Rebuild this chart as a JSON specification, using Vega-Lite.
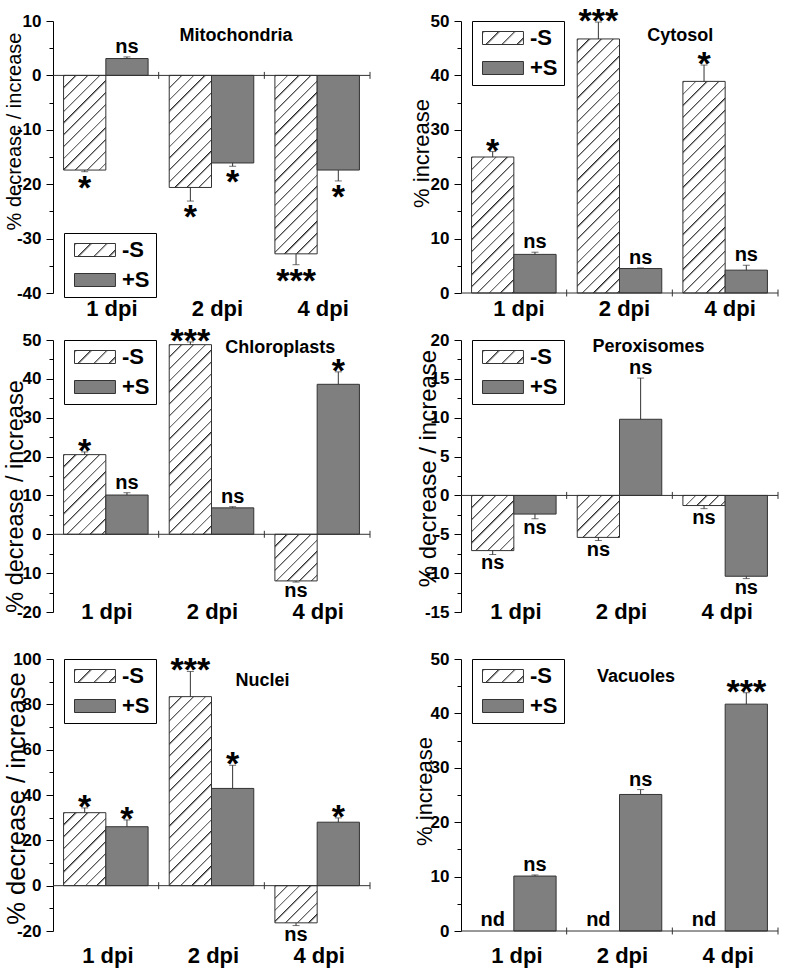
{
  "$schema": "https://vega.github.io/schema/vega-lite/v6.json",
  "background": "white",
  "padding": {"left": 3, "top": 5, "right": 5, "bottom": 5},
  "params": [
    {"name": "hatch", "value": [
      {"offset":0,"color":"#222"},{"offset":0.00834,"color":"#fff"},{"offset":0.03846,"color":"#fff"},
      {"offset":0.03846,"color":"#222"},{"offset":0.0468,"color":"#fff"},{"offset":0.07692,"color":"#fff"},
      {"offset":0.07692,"color":"#222"},{"offset":0.08526,"color":"#fff"},{"offset":0.11538,"color":"#fff"},
      {"offset":0.11538,"color":"#222"},{"offset":0.12372,"color":"#fff"},{"offset":0.15385,"color":"#fff"},
      {"offset":0.15385,"color":"#222"},{"offset":0.16219,"color":"#fff"},{"offset":0.19231,"color":"#fff"},
      {"offset":0.19231,"color":"#222"},{"offset":0.20065,"color":"#fff"},{"offset":0.23077,"color":"#fff"},
      {"offset":0.23077,"color":"#222"},{"offset":0.23911,"color":"#fff"},{"offset":0.26923,"color":"#fff"},
      {"offset":0.26923,"color":"#222"},{"offset":0.27757,"color":"#fff"},{"offset":0.30769,"color":"#fff"},
      {"offset":0.30769,"color":"#222"},{"offset":0.31603,"color":"#fff"},{"offset":0.34615,"color":"#fff"},
      {"offset":0.34615,"color":"#222"},{"offset":0.35449,"color":"#fff"},{"offset":0.38462,"color":"#fff"},
      {"offset":0.38462,"color":"#222"},{"offset":0.39296,"color":"#fff"},{"offset":0.42308,"color":"#fff"},
      {"offset":0.42308,"color":"#222"},{"offset":0.43142,"color":"#fff"},{"offset":0.46154,"color":"#fff"},
      {"offset":0.46154,"color":"#222"},{"offset":0.46988,"color":"#fff"},{"offset":0.5,"color":"#fff"},
      {"offset":0.5,"color":"#222"},{"offset":0.50834,"color":"#fff"},{"offset":0.53846,"color":"#fff"},
      {"offset":0.53846,"color":"#222"},{"offset":0.5468,"color":"#fff"},{"offset":0.57692,"color":"#fff"},
      {"offset":0.57692,"color":"#222"},{"offset":0.58526,"color":"#fff"},{"offset":0.61538,"color":"#fff"},
      {"offset":0.61538,"color":"#222"},{"offset":0.62372,"color":"#fff"},{"offset":0.65385,"color":"#fff"},
      {"offset":0.65385,"color":"#222"},{"offset":0.66219,"color":"#fff"},{"offset":0.69231,"color":"#fff"},
      {"offset":0.69231,"color":"#222"},{"offset":0.70065,"color":"#fff"},{"offset":0.73077,"color":"#fff"},
      {"offset":0.73077,"color":"#222"},{"offset":0.73911,"color":"#fff"},{"offset":0.76923,"color":"#fff"},
      {"offset":0.76923,"color":"#222"},{"offset":0.77757,"color":"#fff"},{"offset":0.80769,"color":"#fff"},
      {"offset":0.80769,"color":"#222"},{"offset":0.81603,"color":"#fff"},{"offset":0.84615,"color":"#fff"},
      {"offset":0.84615,"color":"#222"},{"offset":0.85449,"color":"#fff"},{"offset":0.88462,"color":"#fff"},
      {"offset":0.88462,"color":"#222"},{"offset":0.89296,"color":"#fff"},{"offset":0.92308,"color":"#fff"},
      {"offset":0.92308,"color":"#222"},{"offset":0.93142,"color":"#fff"},{"offset":0.96154,"color":"#fff"},
      {"offset":0.96154,"color":"#222"},{"offset":0.96988,"color":"#fff"},{"offset":1,"color":"#fff"}
    ]}
  ],
  "datasets": {
    "d": [
      {"panel":"Mito","dpi":"1 dpi","trt":"-S","v":-17.4,"e":-17.7,"sig":"*"},
      {"panel":"Mito","dpi":"1 dpi","trt":"+S","v":3.1,"e":3.4,"sig":"ns"},
      {"panel":"Mito","dpi":"2 dpi","trt":"-S","v":-20.6,"e":-23.1,"sig":"*"},
      {"panel":"Mito","dpi":"2 dpi","trt":"+S","v":-16.1,"e":-16.7,"sig":"*"},
      {"panel":"Mito","dpi":"4 dpi","trt":"-S","v":-32.8,"e":-34.8,"sig":"***"},
      {"panel":"Mito","dpi":"4 dpi","trt":"+S","v":-17.4,"e":-19.4,"sig":"*"},
      {"panel":"Cyto","dpi":"1 dpi","trt":"-S","v":25.0,"e":26.0,"sig":"*"},
      {"panel":"Cyto","dpi":"1 dpi","trt":"+S","v":7.1,"e":7.5,"sig":"ns"},
      {"panel":"Cyto","dpi":"2 dpi","trt":"-S","v":46.7,"e":49.8,"sig":"***"},
      {"panel":"Cyto","dpi":"2 dpi","trt":"+S","v":4.5,"e":4.6,"sig":"ns"},
      {"panel":"Cyto","dpi":"4 dpi","trt":"-S","v":38.9,"e":41.9,"sig":"*"},
      {"panel":"Cyto","dpi":"4 dpi","trt":"+S","v":4.2,"e":5.1,"sig":"ns"},
      {"panel":"Chloro","dpi":"1 dpi","trt":"-S","v":20.5,"e":21.2,"sig":"*"},
      {"panel":"Chloro","dpi":"1 dpi","trt":"+S","v":10.1,"e":10.7,"sig":"ns"},
      {"panel":"Chloro","dpi":"2 dpi","trt":"-S","v":48.8,"e":49.5,"sig":"***"},
      {"panel":"Chloro","dpi":"2 dpi","trt":"+S","v":6.8,"e":7.1,"sig":"ns"},
      {"panel":"Chloro","dpi":"4 dpi","trt":"-S","v":-12.0,"e":-12.3,"sig":"ns"},
      {"panel":"Chloro","dpi":"4 dpi","trt":"+S","v":38.6,"e":41.8,"sig":"*"},
      {"panel":"Perox","dpi":"1 dpi","trt":"-S","v":-7.1,"e":-7.6,"sig":"ns"},
      {"panel":"Perox","dpi":"1 dpi","trt":"+S","v":-2.4,"e":-3.0,"sig":"ns"},
      {"panel":"Perox","dpi":"2 dpi","trt":"-S","v":-5.4,"e":-5.8,"sig":"ns"},
      {"panel":"Perox","dpi":"2 dpi","trt":"+S","v":9.8,"e":15.1,"sig":"ns"},
      {"panel":"Perox","dpi":"4 dpi","trt":"-S","v":-1.3,"e":-1.7,"sig":"ns"},
      {"panel":"Perox","dpi":"4 dpi","trt":"+S","v":-10.4,"e":-10.7,"sig":"ns"},
      {"panel":"Nuclei","dpi":"1 dpi","trt":"-S","v":32.2,"e":34.3,"sig":"*"},
      {"panel":"Nuclei","dpi":"1 dpi","trt":"+S","v":26.0,"e":29.0,"sig":"*"},
      {"panel":"Nuclei","dpi":"2 dpi","trt":"-S","v":83.4,"e":94.5,"sig":"***"},
      {"panel":"Nuclei","dpi":"2 dpi","trt":"+S","v":42.9,"e":53.1,"sig":"*"},
      {"panel":"Nuclei","dpi":"4 dpi","trt":"-S","v":-16.4,"e":-17.6,"sig":"ns"},
      {"panel":"Nuclei","dpi":"4 dpi","trt":"+S","v":28.0,"e":29.9,"sig":"*"},
      {"panel":"Vac","dpi":"1 dpi","trt":"-S","v":null,"e":null,"sig":"nd"},
      {"panel":"Vac","dpi":"1 dpi","trt":"+S","v":10.1,"e":10.3,"sig":"ns"},
      {"panel":"Vac","dpi":"2 dpi","trt":"-S","v":null,"e":null,"sig":"nd"},
      {"panel":"Vac","dpi":"2 dpi","trt":"+S","v":25.1,"e":26.0,"sig":"ns"},
      {"panel":"Vac","dpi":"4 dpi","trt":"-S","v":null,"e":null,"sig":"nd"},
      {"panel":"Vac","dpi":"4 dpi","trt":"+S","v":41.7,"e":43.8,"sig":"***"}
    ]
  },
  "data": {"name": "d"},
  "config": {
    "view": {"stroke": null},
    "font": "Liberation Sans",
    "axis": {"labelFont": "Liberation Sans", "labelFontWeight": "bold", "labelFontSize": 17, "labelColor": "#000", "titleFont": "Liberation Sans", "titleFontWeight": "normal", "titleColor": "#000", "domainColor": "#000", "tickColor": "#000", "grid": false, "labelPadding": 5, "labelOverlap": false, "labelFlush": false},
    "legend": {"title": null, "strokeColor": "#000", "fillColor": "#fff", "padding": 6, "symbolType": "M-1,-1H5.3V1H-1Z", "symbolSize": 169, "symbolStrokeColor": "#333", "symbolStrokeWidth": 1, "symbolOpacity": 1, "labelFont": "Liberation Sans", "labelFontWeight": "bold", "labelFontSize": 22, "labelColor": "#000", "labelOffset": 30, "rowPadding": 8},
    "text": {"font": "Liberation Sans", "color": "#000"}
  },
  "columns": 2,
  "spacing": {"row": 47, "column": 91},
  "bounds": "flush",
  "resolve": {"scale": {"fill": "independent"}, "legend": {"fill": "independent"}},
  "concat": [
    {
      "width": 317, "height": 272,
      "transform": [{"filter": "datum.panel == 'Mito'"}],
      "layer": [
        {"transform": [{"filter": "datum.trt == '-S'"}],
         "mark": {"type": "bar", "stroke": "#333", "strokeWidth": 1, "fill": {"expr": "{gradient:'linear',x1:0,y1:0,x2:12893/(1786.8+pow(abs(datum.v)*5.44,2)),y2:305*5.44*abs(datum.v)/(1786.8+pow(abs(datum.v)*5.44,2)),stops:hatch}"}},
         "encoding": {
           "x": {"field": "dpi", "type": "nominal", "scale": {"domain": ["1 dpi","2 dpi","4 dpi"], "paddingInner": 0.2, "paddingOuter": 0.1}, "axis": {"title": null, "labelAngle": 0, "domain": false, "ticks": false, "tickSize": 0, "labelPadding": 5, "labelOffset": 6, "labelFontSize": 22}},
           "xOffset": {"field": "trt", "type": "nominal", "scale": {"domain": ["-S","+S"]}},
           "y": {"field": "v", "type": "quantitative", "stack": null, "scale": {"domain": [-40, 10], "nice": false, "zero": false},
                 "axis": {"title": "% decrease / increase", "values": [-40,-35,-30,-25,-20,-15,-10,-5,0,5,10], "tickCount": 100, "labelOverlap": false, "labelExpr": "datum.value % 10 === 0 ? '' + datum.value : ''", "tickSize": {"condition": {"test": "datum.value % 10 === 0", "value": 7}, "value": 4}, "titleFontSize": 20, "titleX": -39, "titleY": 110, "titleBaseline": "middle"}}
         }},
        {"transform": [{"filter": "datum.trt == '+S'"}],
         "mark": {"type": "bar", "stroke": "#333", "strokeWidth": 1},
         "encoding": {
           "x": {"field": "dpi", "type": "nominal"},
           "xOffset": {"field": "trt", "type": "nominal"},
           "y": {"field": "v", "type": "quantitative", "stack": null},
           "fill": {"field": "trt", "type": "nominal", "scale": {"domain": ["-S","+S"], "range": [{"expr": "{gradient:'linear',x1:0,y1:0,x2:8.96,y2:2.84,stops:hatch}"}, "#7f7f7f"]}, "legend": {"title": null, "orient": "none", "legendX": 11, "legendY": 212, "symbolType": "M-1,-1H5.3V1H-1Z"}}
         }},
        {"transform": [{"filter": "datum.trt == '+S' && datum.dpi == '1 dpi'"}],
         "mark": {"type": "rule", "color": "#333"},
         "encoding": {"y": {"datum": 0}}},
        {"transform": [{"filter": "datum.trt == '+S'"}],
         "mark": {"type": "rule", "color": "#333"},
         "encoding": {"x": {"field": "dpi", "type": "nominal", "bandPosition": 1.125}, "y": {"datum": -0.64}, "y2": {"datum": 0.64}}},
        {"mark": {"type": "rule", "color": "#333"},
         "encoding": {"x": {"field": "dpi", "type": "nominal"}, "xOffset": {"field": "trt", "type": "nominal"}, "y": {"field": "v", "type": "quantitative"}, "y2": {"field": "e"}}},
        {"mark": {"type": "tick", "color": "#333", "thickness": 1, "size": 7},
         "encoding": {"x": {"field": "dpi", "type": "nominal"}, "xOffset": {"field": "trt", "type": "nominal"}, "y": {"field": "e", "type": "quantitative"}}},
        {"transform": [{"filter": "isValid(datum.v)"}],
         "mark": {"type": "text", "fontWeight": "bold", "fontSize": {"expr": "datum.sig == 'ns' ? 20 : 34"}, "dy": {"expr": "datum.v > 0 ? (datum.sig == 'ns' ? -4 : 10) : (datum.sig == 'ns' ? 15 : 27)"}, "baseline": "alphabetic"},
         "encoding": {"x": {"field": "dpi", "type": "nominal"}, "xOffset": {"field": "trt", "type": "nominal"}, "y": {"field": "e", "type": "quantitative"}, "text": {"field": "sig"}}},
        {"transform": [{"filter": "datum.trt == '+S' && datum.dpi == '1 dpi'"}],
         "mark": {"type": "text", "fontWeight": "bold", "fontSize": 18, "dx": 24.5, "baseline": "middle"},
         "encoding": {"x": {"datum": "2 dpi"}, "y": {"datum": 7.2}, "text": {"value": "Mitochondria"}}}
      ]
    },
    {
      "width": 317, "height": 272,
      "transform": [{"filter": "datum.panel == 'Cyto'"}],
      "layer": [
        {"transform": [{"filter": "datum.trt == '-S'"}],
         "mark": {"type": "bar", "stroke": "#333", "strokeWidth": 1, "fill": {"expr": "{gradient:'linear',x1:0,y1:0,x2:12893/(1786.8+pow(abs(datum.v)*5.44,2)),y2:305*5.44*abs(datum.v)/(1786.8+pow(abs(datum.v)*5.44,2)),stops:hatch}"}},
         "encoding": {
           "x": {"field": "dpi", "type": "nominal", "scale": {"domain": ["1 dpi","2 dpi","4 dpi"], "paddingInner": 0.2, "paddingOuter": 0.1}, "axis": {"title": null, "labelAngle": 0, "domain": false, "ticks": false, "tickSize": 0, "labelPadding": 5, "labelOffset": 5, "labelFontSize": 22}},
           "xOffset": {"field": "trt", "type": "nominal", "scale": {"domain": ["-S","+S"]}},
           "y": {"field": "v", "type": "quantitative", "stack": null, "scale": {"domain": [0, 50], "nice": false, "zero": false},
                 "axis": {"title": "% increase", "values": [0,5,10,15,20,25,30,35,40,45,50], "tickCount": 100, "labelOverlap": false, "labelExpr": "datum.value % 10 === 0 ? '' + datum.value : ''", "tickSize": {"condition": {"test": "datum.value % 10 === 0", "value": 7}, "value": 4}, "titleFontSize": 22, "titleX": -40, "titleY": 132, "titleBaseline": "middle"}}
         }},
        {"transform": [{"filter": "datum.trt == '+S'"}],
         "mark": {"type": "bar", "stroke": "#333", "strokeWidth": 1},
         "encoding": {
           "x": {"field": "dpi", "type": "nominal"},
           "xOffset": {"field": "trt", "type": "nominal"},
           "y": {"field": "v", "type": "quantitative", "stack": null},
           "fill": {"field": "trt", "type": "nominal", "scale": {"domain": ["-S","+S"], "range": [{"expr": "{gradient:'linear',x1:0,y1:0,x2:8.96,y2:2.84,stops:hatch}"}, "#7f7f7f"]}, "legend": {"title": null, "orient": "none", "legendX": 11, "legendY": 0, "symbolType": "M-1,-1H5.3V1H-1Z"}}
         }},
        {"transform": [{"filter": "datum.trt == '+S' && datum.dpi == '1 dpi'"}],
         "mark": {"type": "rule", "color": "#333"},
         "encoding": {"y": {"datum": 0}}},
        {"transform": [{"filter": "datum.trt == '+S'"}],
         "mark": {"type": "rule", "color": "#333"},
         "encoding": {"x": {"field": "dpi", "type": "nominal", "bandPosition": 1.125}, "y": {"datum": -0.64}, "y2": {"datum": 0.64}}},
        {"mark": {"type": "rule", "color": "#333"},
         "encoding": {"x": {"field": "dpi", "type": "nominal"}, "xOffset": {"field": "trt", "type": "nominal"}, "y": {"field": "v", "type": "quantitative"}, "y2": {"field": "e"}}},
        {"mark": {"type": "tick", "color": "#333", "thickness": 1, "size": 7},
         "encoding": {"x": {"field": "dpi", "type": "nominal"}, "xOffset": {"field": "trt", "type": "nominal"}, "y": {"field": "e", "type": "quantitative"}}},
        {"transform": [{"filter": "isValid(datum.v)"}],
         "mark": {"type": "text", "fontWeight": "bold", "fontSize": {"expr": "datum.sig == 'ns' ? 20 : 34"}, "dy": {"expr": "datum.v > 0 ? (datum.sig == 'ns' ? -4 : 10) : (datum.sig == 'ns' ? 15 : 27)"}, "baseline": "alphabetic"},
         "encoding": {"x": {"field": "dpi", "type": "nominal"}, "xOffset": {"field": "trt", "type": "nominal"}, "y": {"field": "e", "type": "quantitative"}, "text": {"field": "sig"}}},
        {"transform": [{"filter": "datum.trt == '+S' && datum.dpi == '1 dpi'"}],
         "mark": {"type": "text", "fontWeight": "bold", "fontSize": 18, "dx": -45, "baseline": "middle"},
         "encoding": {"x": {"datum": "4 dpi"}, "y": {"datum": 47.2}, "text": {"value": "Cytosol"}}}
      ]
    },
    {
      "width": 317, "height": 272,
      "transform": [{"filter": "datum.panel == 'Chloro'"}],
      "layer": [
        {"transform": [{"filter": "datum.trt == '-S'"}],
         "mark": {"type": "bar", "stroke": "#333", "strokeWidth": 1, "fill": {"expr": "{gradient:'linear',x1:0,y1:0,x2:12893/(1786.8+pow(abs(datum.v)*3.886,2)),y2:305*3.886*abs(datum.v)/(1786.8+pow(abs(datum.v)*3.886,2)),stops:hatch}"}},
         "encoding": {
           "x": {"field": "dpi", "type": "nominal", "scale": {"domain": ["1 dpi","2 dpi","4 dpi"], "paddingInner": 0.2, "paddingOuter": 0.1}, "axis": {"title": null, "labelAngle": 0, "domain": false, "ticks": false, "tickSize": 0, "labelPadding": -11, "labelOffset": 1, "labelFontSize": 22}},
           "xOffset": {"field": "trt", "type": "nominal", "scale": {"domain": ["-S","+S"]}},
           "y": {"field": "v", "type": "quantitative", "stack": null, "scale": {"domain": [-20, 50], "nice": false, "zero": false},
                 "axis": {"title": "% decrease / increase", "values": [-20,-15,-10,-5,0,5,10,15,20,25,30,35,40,45,50], "tickCount": 100, "labelOverlap": false, "labelExpr": "datum.value % 10 === 0 ? '' + datum.value : ''", "tickSize": {"condition": {"test": "datum.value % 10 === 0", "value": 7}, "value": 4}, "titleFontSize": 23.5, "titleX": -38, "titleY": 156, "titleBaseline": "middle"}}
         }},
        {"transform": [{"filter": "datum.trt == '+S'"}],
         "mark": {"type": "bar", "stroke": "#333", "strokeWidth": 1},
         "encoding": {
           "x": {"field": "dpi", "type": "nominal"},
           "xOffset": {"field": "trt", "type": "nominal"},
           "y": {"field": "v", "type": "quantitative", "stack": null},
           "fill": {"field": "trt", "type": "nominal", "scale": {"domain": ["-S","+S"], "range": [{"expr": "{gradient:'linear',x1:0,y1:0,x2:8.96,y2:2.84,stops:hatch}"}, "#7f7f7f"]}, "legend": {"title": null, "orient": "none", "legendX": 11, "legendY": 0, "symbolType": "M-1,-1H5.3V1H-1Z"}}
         }},
        {"transform": [{"filter": "datum.trt == '+S' && datum.dpi == '1 dpi'"}],
         "mark": {"type": "rule", "color": "#333"},
         "encoding": {"y": {"datum": 0}}},
        {"transform": [{"filter": "datum.trt == '+S'"}],
         "mark": {"type": "rule", "color": "#333"},
         "encoding": {"x": {"field": "dpi", "type": "nominal", "bandPosition": 1.125}, "y": {"datum": -0.9}, "y2": {"datum": 0.9}}},
        {"mark": {"type": "rule", "color": "#333"},
         "encoding": {"x": {"field": "dpi", "type": "nominal"}, "xOffset": {"field": "trt", "type": "nominal"}, "y": {"field": "v", "type": "quantitative"}, "y2": {"field": "e"}}},
        {"mark": {"type": "tick", "color": "#333", "thickness": 1, "size": 7},
         "encoding": {"x": {"field": "dpi", "type": "nominal"}, "xOffset": {"field": "trt", "type": "nominal"}, "y": {"field": "e", "type": "quantitative"}}},
        {"transform": [{"filter": "isValid(datum.v)"}],
         "mark": {"type": "text", "fontWeight": "bold", "fontSize": {"expr": "datum.sig == 'ns' ? 20 : 34"}, "dy": {"expr": "datum.v > 0 ? (datum.sig == 'ns' ? -4 : 10) : (datum.sig == 'ns' ? 15 : 27)"}, "baseline": "alphabetic"},
         "encoding": {"x": {"field": "dpi", "type": "nominal"}, "xOffset": {"field": "trt", "type": "nominal"}, "y": {"field": "e", "type": "quantitative"}, "text": {"field": "sig"}}},
        {"transform": [{"filter": "datum.trt == '+S' && datum.dpi == '1 dpi'"}],
         "mark": {"type": "text", "fontWeight": "bold", "fontSize": 18, "dx": -37, "baseline": "middle"},
         "encoding": {"x": {"datum": "4 dpi"}, "y": {"datum": 47.9}, "text": {"value": "Chloroplasts"}}}
      ]
    },
    {
      "width": 317, "height": 272,
      "transform": [{"filter": "datum.panel == 'Perox'"}],
      "layer": [
        {"transform": [{"filter": "datum.trt == '-S'"}],
         "mark": {"type": "bar", "stroke": "#333", "strokeWidth": 1, "fill": {"expr": "{gradient:'linear',x1:0,y1:0,x2:12893/(1786.8+pow(abs(datum.v)*7.771,2)),y2:305*7.771*abs(datum.v)/(1786.8+pow(abs(datum.v)*7.771,2)),stops:hatch}"}},
         "encoding": {
           "x": {"field": "dpi", "type": "nominal", "scale": {"domain": ["1 dpi","2 dpi","4 dpi"], "paddingInner": 0.2, "paddingOuter": 0.1}, "axis": {"title": null, "labelAngle": 0, "domain": false, "ticks": false, "tickSize": 0, "labelPadding": -11, "labelOffset": 2, "labelFontSize": 22}},
           "xOffset": {"field": "trt", "type": "nominal", "scale": {"domain": ["-S","+S"]}},
           "y": {"field": "v", "type": "quantitative", "stack": null, "scale": {"domain": [-15, 20], "nice": false, "zero": false},
                 "axis": {"title": "% decrease / increase", "values": [-15,-12.5,-10,-7.5,-5,-2.5,0,2.5,5,7.5,10,12.5,15,17.5,20], "tickCount": 100, "labelOverlap": false, "labelExpr": "datum.value % 5 === 0 ? '' + datum.value : ''", "tickSize": {"condition": {"test": "datum.value % 5 === 0", "value": 7}, "value": 4}, "titleFontSize": 24, "titleX": -33, "titleY": 128, "titleBaseline": "middle"}}
         }},
        {"transform": [{"filter": "datum.trt == '+S'"}],
         "mark": {"type": "bar", "stroke": "#333", "strokeWidth": 1},
         "encoding": {
           "x": {"field": "dpi", "type": "nominal"},
           "xOffset": {"field": "trt", "type": "nominal"},
           "y": {"field": "v", "type": "quantitative", "stack": null},
           "fill": {"field": "trt", "type": "nominal", "scale": {"domain": ["-S","+S"], "range": [{"expr": "{gradient:'linear',x1:0,y1:0,x2:8.96,y2:2.84,stops:hatch}"}, "#7f7f7f"]}, "legend": {"title": null, "orient": "none", "legendX": 11, "legendY": 0, "symbolType": "M-1,-1H5.3V1H-1Z"}}
         }},
        {"transform": [{"filter": "datum.trt == '+S' && datum.dpi == '1 dpi'"}],
         "mark": {"type": "rule", "color": "#333"},
         "encoding": {"y": {"datum": 0}}},
        {"transform": [{"filter": "datum.trt == '+S'"}],
         "mark": {"type": "rule", "color": "#333"},
         "encoding": {"x": {"field": "dpi", "type": "nominal", "bandPosition": 1.125}, "y": {"datum": -0.45}, "y2": {"datum": 0.45}}},
        {"mark": {"type": "rule", "color": "#333"},
         "encoding": {"x": {"field": "dpi", "type": "nominal"}, "xOffset": {"field": "trt", "type": "nominal"}, "y": {"field": "v", "type": "quantitative"}, "y2": {"field": "e"}}},
        {"mark": {"type": "tick", "color": "#333", "thickness": 1, "size": 7},
         "encoding": {"x": {"field": "dpi", "type": "nominal"}, "xOffset": {"field": "trt", "type": "nominal"}, "y": {"field": "e", "type": "quantitative"}}},
        {"transform": [{"filter": "isValid(datum.v)"}],
         "mark": {"type": "text", "fontWeight": "bold", "fontSize": {"expr": "datum.sig == 'ns' ? 20 : 34"}, "dy": {"expr": "datum.v > 0 ? (datum.sig == 'ns' ? -4 : 10) : (datum.sig == 'ns' ? 15 : 27)"}, "baseline": "alphabetic"},
         "encoding": {"x": {"field": "dpi", "type": "nominal"}, "xOffset": {"field": "trt", "type": "nominal"}, "y": {"field": "e", "type": "quantitative"}, "text": {"field": "sig"}}},
        {"transform": [{"filter": "datum.trt == '+S' && datum.dpi == '1 dpi'"}],
         "mark": {"type": "text", "fontWeight": "bold", "fontSize": 18, "dx": 29, "baseline": "middle"},
         "encoding": {"x": {"datum": "2 dpi"}, "y": {"datum": 19.1}, "text": {"value": "Peroxisomes"}}}
      ]
    },
    {
      "width": 317, "height": 272,
      "transform": [{"filter": "datum.panel == 'Nuclei'"}],
      "layer": [
        {"transform": [{"filter": "datum.trt == '-S'"}],
         "mark": {"type": "bar", "stroke": "#333", "strokeWidth": 1, "fill": {"expr": "{gradient:'linear',x1:0,y1:0,x2:12893/(1786.8+pow(abs(datum.v)*2.267,2)),y2:305*2.267*abs(datum.v)/(1786.8+pow(abs(datum.v)*2.267,2)),stops:hatch}"}},
         "encoding": {
           "x": {"field": "dpi", "type": "nominal", "scale": {"domain": ["1 dpi","2 dpi","4 dpi"], "paddingInner": 0.2, "paddingOuter": 0.1}, "axis": {"title": null, "labelAngle": 0, "domain": false, "ticks": false, "tickSize": 0, "labelPadding": 14, "labelOffset": 2, "labelFontSize": 22}},
           "xOffset": {"field": "trt", "type": "nominal", "scale": {"domain": ["-S","+S"]}},
           "y": {"field": "v", "type": "quantitative", "stack": null, "scale": {"domain": [-20, 100], "nice": false, "zero": false},
                 "axis": {"title": "% decrease / increase", "values": [-20,-10,0,10,20,30,40,50,60,70,80,90,100], "tickCount": 100, "labelOverlap": false, "labelExpr": "datum.value % 20 === 0 ? '' + datum.value : ''", "tickSize": {"condition": {"test": "datum.value % 20 === 0", "value": 7}, "value": 4}, "titleFontSize": 25.5, "titleX": -37, "titleY": 139, "titleBaseline": "middle"}}
         }},
        {"transform": [{"filter": "datum.trt == '+S'"}],
         "mark": {"type": "bar", "stroke": "#333", "strokeWidth": 1},
         "encoding": {
           "x": {"field": "dpi", "type": "nominal"},
           "xOffset": {"field": "trt", "type": "nominal"},
           "y": {"field": "v", "type": "quantitative", "stack": null},
           "fill": {"field": "trt", "type": "nominal", "scale": {"domain": ["-S","+S"], "range": [{"expr": "{gradient:'linear',x1:0,y1:0,x2:8.96,y2:2.84,stops:hatch}"}, "#7f7f7f"]}, "legend": {"title": null, "orient": "none", "legendX": 11, "legendY": 0, "symbolType": "M-1,-1H5.3V1H-1Z"}}
         }},
        {"transform": [{"filter": "datum.trt == '+S' && datum.dpi == '1 dpi'"}],
         "mark": {"type": "rule", "color": "#333"},
         "encoding": {"y": {"datum": 0}}},
        {"transform": [{"filter": "datum.trt == '+S'"}],
         "mark": {"type": "rule", "color": "#333"},
         "encoding": {"x": {"field": "dpi", "type": "nominal", "bandPosition": 1.125}, "y": {"datum": -1.54}, "y2": {"datum": 1.54}}},
        {"mark": {"type": "rule", "color": "#333"},
         "encoding": {"x": {"field": "dpi", "type": "nominal"}, "xOffset": {"field": "trt", "type": "nominal"}, "y": {"field": "v", "type": "quantitative"}, "y2": {"field": "e"}}},
        {"mark": {"type": "tick", "color": "#333", "thickness": 1, "size": 7},
         "encoding": {"x": {"field": "dpi", "type": "nominal"}, "xOffset": {"field": "trt", "type": "nominal"}, "y": {"field": "e", "type": "quantitative"}}},
        {"transform": [{"filter": "isValid(datum.v)"}],
         "mark": {"type": "text", "fontWeight": "bold", "fontSize": {"expr": "datum.sig == 'ns' ? 20 : 34"}, "dy": {"expr": "datum.v > 0 ? (datum.sig == 'ns' ? -4 : 10) : (datum.sig == 'ns' ? 15 : 27)"}, "baseline": "alphabetic"},
         "encoding": {"x": {"field": "dpi", "type": "nominal"}, "xOffset": {"field": "trt", "type": "nominal"}, "y": {"field": "e", "type": "quantitative"}, "text": {"field": "sig"}}},
        {"transform": [{"filter": "datum.trt == '+S' && datum.dpi == '1 dpi'"}],
         "mark": {"type": "text", "fontWeight": "bold", "fontSize": 18, "dx": 51, "baseline": "middle"},
         "encoding": {"x": {"datum": "2 dpi"}, "y": {"datum": 90.3}, "text": {"value": "Nuclei"}}}
      ]
    },
    {
      "width": 317, "height": 272,
      "transform": [{"filter": "datum.panel == 'Vac'"}],
      "layer": [
        {"transform": [{"filter": "datum.trt == '+S'"}],
         "mark": {"type": "bar", "stroke": "#333", "strokeWidth": 1},
         "encoding": {
           "x": {"field": "dpi", "type": "nominal", "scale": {"domain": ["1 dpi","2 dpi","4 dpi"], "paddingInner": 0.2, "paddingOuter": 0.1}, "axis": {"title": null, "labelAngle": 0, "domain": false, "ticks": false, "tickSize": 0, "labelPadding": 14, "labelOffset": 3, "labelFontSize": 22}},
           "xOffset": {"field": "trt", "type": "nominal", "scale": {"domain": ["-S","+S"]}},
           "y": {"field": "v", "type": "quantitative", "stack": null, "scale": {"domain": [0, 50], "nice": false, "zero": false},
                 "axis": {"title": "% increase", "values": [0,5,10,15,20,25,30,35,40,45,50], "tickCount": 100, "labelOverlap": false, "labelExpr": "datum.value % 10 === 0 ? '' + datum.value : ''", "tickSize": {"condition": {"test": "datum.value % 10 === 0", "value": 7}, "value": 4}, "titleFontSize": 22, "titleX": -36.5, "titleY": 132, "titleBaseline": "middle"}},
           "fill": {"field": "trt", "type": "nominal", "scale": {"domain": ["-S","+S"], "range": [{"expr": "{gradient:'linear',x1:0,y1:0,x2:8.96,y2:2.84,stops:hatch}"}, "#7f7f7f"]}, "legend": {"title": null, "orient": "none", "legendX": 11, "legendY": 0, "symbolType": "M-1,-1H5.3V1H-1Z"}}
         }},
        {"transform": [{"filter": "datum.trt == '+S' && datum.dpi == '1 dpi'"}],
         "mark": {"type": "rule", "color": "#333"},
         "encoding": {"y": {"datum": 0}}},
        {"transform": [{"filter": "datum.trt == '+S'"}],
         "mark": {"type": "rule", "color": "#333"},
         "encoding": {"x": {"field": "dpi", "type": "nominal", "bandPosition": 1.125}, "y": {"datum": -0.64}, "y2": {"datum": 0.64}}},
        {"transform": [{"filter": "isValid(datum.v)"}],
         "mark": {"type": "rule", "color": "#333"},
         "encoding": {"x": {"field": "dpi", "type": "nominal"}, "xOffset": {"field": "trt", "type": "nominal"}, "y": {"field": "v", "type": "quantitative"}, "y2": {"field": "e"}}},
        {"transform": [{"filter": "isValid(datum.v)"}],
         "mark": {"type": "tick", "color": "#333", "thickness": 1, "size": 7},
         "encoding": {"x": {"field": "dpi", "type": "nominal"}, "xOffset": {"field": "trt", "type": "nominal"}, "y": {"field": "e", "type": "quantitative"}}},
        {"transform": [{"filter": "isValid(datum.v)"}],
         "mark": {"type": "text", "fontWeight": "bold", "fontSize": {"expr": "datum.sig == 'ns' ? 20 : 34"}, "dy": {"expr": "datum.v > 0 ? (datum.sig == 'ns' ? -4 : 10) : (datum.sig == 'ns' ? 15 : 27)"}, "baseline": "alphabetic"},
         "encoding": {"x": {"field": "dpi", "type": "nominal"}, "xOffset": {"field": "trt", "type": "nominal"}, "y": {"field": "e", "type": "quantitative"}, "text": {"field": "sig"}}},
        {"transform": [{"filter": "datum.sig == 'nd'"}],
         "mark": {"type": "text", "fontWeight": "bold", "fontSize": 20, "dy": -5, "baseline": "alphabetic"},
         "encoding": {"x": {"field": "dpi", "type": "nominal"}, "xOffset": {"field": "trt", "type": "nominal"}, "y": {"datum": 0}, "text": {"field": "sig"}}},
        {"transform": [{"filter": "datum.trt == '+S' && datum.dpi == '1 dpi'"}],
         "mark": {"type": "text", "fontWeight": "bold", "fontSize": 18, "dx": 16.5, "baseline": "middle"},
         "encoding": {"x": {"datum": "2 dpi"}, "y": {"datum": 46.7}, "text": {"value": "Vacuoles"}}}
      ]
    }
  ]
}
